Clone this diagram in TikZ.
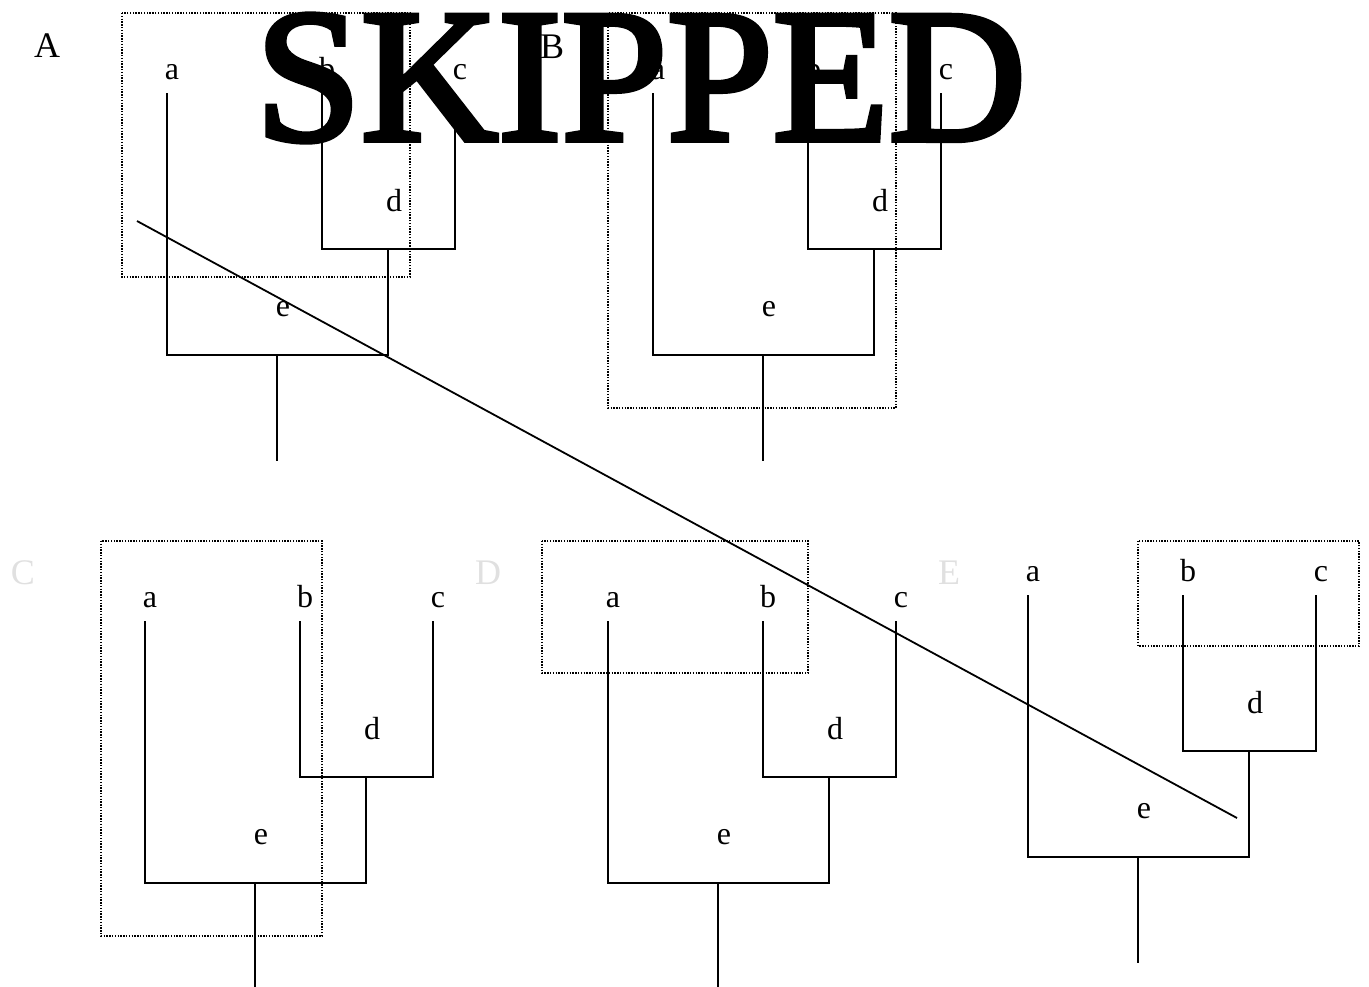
\documentclass[tikz,border=0pt]{standalone}
\usepackage{fontspec}
\setmainfont{Liberation Serif}
\newfontfamily\stampfont[FakeBold=3]{Liberation Serif}
\usetikzlibrary{calc}

\definecolor{faint}{gray}{0.88}

\tikzset{
    branch/.style={line width=0.9pt},
    selbox/.style={line width=0.7pt, dash pattern=on 0.7pt off 0.7pt},
    taxon/.style={font=\fontsize{16}{16}\selectfont, inner sep=0pt, anchor=base},
    panel/.style={font=\fontsize{18}{18}\selectfont, inner sep=0pt},
    stamp/.style={font=\stampfont\fontsize{95}{95}\selectfont, inner sep=0pt, anchor=base west}
}

\begin{document}
\begin{tikzpicture}[x=0.5pt, y=-0.5pt]
    \useasboundingbox (0,0) rectangle (1369,986);

    % Selection boxes
    \draw[selbox] (122,13) rectangle (410,277);
    \draw[selbox] (608,13) rectangle (896,408);
    \draw[selbox] (101,541) rectangle (322,936);
    \draw[selbox] (542,541) rectangle (808,673);
    \draw[selbox] (1138,541) rectangle (1359,646);

    % Panel letters
    \node[panel] (labA) at (47,46) {A};
    \node[panel] (labB) at (552,47) {B};
    \node[panel, faint] (labC) at (23,573) {C};
    \node[panel, faint] (labD) at (488,573) {D};
    \node[panel, faint] (labE) at (949,573) {E};

    % Trees ((a) is the top of leaf a)
    \foreach \t/\x/\y in {A/167/93, B/653/93, C/145/621, D/608/621, E/1028/595} {
        \coordinate (\t-a) at (\x,\y);
        \coordinate (\t-b) at (\x+155,\y);
        \coordinate (\t-c) at (\x+288,\y);
        \coordinate (\t-d) at (\x+221,\y+156);
        \coordinate (\t-e) at (\x+110,\y+262);
        \coordinate (\t-root) at (\x+110,\y+368);

        \node[taxon] (\t-la) at (\x+5,\y-14) {a};
        \node[taxon] (\t-lb) at (\x+160,\y-14) {b};
        \node[taxon] (\t-lc) at (\x+293,\y-14) {c};
        \node[taxon] (\t-ld) at (\x+227,\y+118) {d};
        \node[taxon] (\t-le) at (\x+116,\y+223) {e};

        \draw[branch] (\t-b) |- (\t-d) -| (\t-c);
        \draw[branch] (\t-a) |- (\t-e) -| (\t-d);
        \draw[branch] (\t-e) -- (\t-root);
    }

    % Cut line
    \coordinate (cut-start) at (137,221);
    \coordinate (cut-end) at (1237,818);
    \draw[branch] (cut-start) -- (cut-end);

    % Stamp
    \node[stamp] (skipped) at (255,140) {SKIPPED};
\end{tikzpicture}
\end{document}
